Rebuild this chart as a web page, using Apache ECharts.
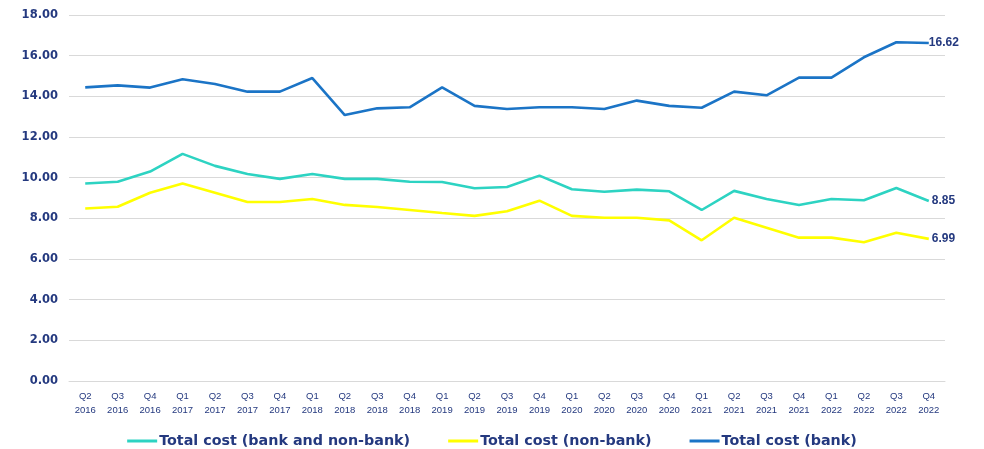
<!DOCTYPE html>
<html>
<head>
<meta charset="utf-8">
<script src="https://cdn.jsdelivr.net/npm/echarts@6/dist/echarts.min.js"></script>
<style>
  html, body { margin: 0; padding: 0; background: #ffffff; }
  #chart { width: 984px; height: 449px; }
</style>
</head>
<body>
<div id="chart"></div>
<script>
// Quarter labels (quarter on top line, year below)
const quarters = [
  'Q2\n2016', 'Q3\n2016', 'Q4\n2016',
  'Q1\n2017', 'Q2\n2017', 'Q3\n2017', 'Q4\n2017',
  'Q1\n2018', 'Q2\n2018', 'Q3\n2018', 'Q4\n2018',
  'Q1\n2019', 'Q2\n2019', 'Q3\n2019', 'Q4\n2019',
  'Q1\n2020', 'Q2\n2020', 'Q3\n2020', 'Q4\n2020',
  'Q1\n2021', 'Q2\n2021', 'Q3\n2021', 'Q4\n2021',
  'Q1\n2022', 'Q2\n2022', 'Q3\n2022', 'Q4\n2022'
];

// Total cost, bank and non-bank combined
const totalAll = [
  9.71, 9.80, 10.30,
  11.17, 10.58, 10.18, 9.94,
  10.18, 9.94, 9.94, 9.80,
  9.79, 9.48, 9.54, 10.10,
  9.43, 9.31, 9.41, 9.33,
  8.41, 9.35, 8.95, 8.66,
  8.95, 8.89, 9.49, 8.85
];

// Total cost, non-bank
const totalNonBank = [
  8.48, 8.57, 9.26,
  9.71, 9.26, 8.80, 8.80,
  8.95, 8.66, 8.56, 8.41,
  8.26, 8.12, 8.35, 8.87,
  8.12, 8.03, 8.03, 7.90,
  6.92, 8.03, 7.54, 7.05,
  7.05, 6.82, 7.29, 6.99
];

// Total cost, bank
const totalBank = [
  14.44, 14.54, 14.43,
  14.84, 14.61, 14.23, 14.23,
  14.90, 13.08, 13.41, 13.46,
  14.44, 13.53, 13.38, 13.46,
  13.46, 13.38, 13.79, 13.53,
  13.44, 14.23, 14.05, 14.92,
  14.92, 15.92, 16.66, 16.62
];

const navy = '#24397f';
const sansFont = '"Liberation Sans", Arial, sans-serif';
const wideFont = '"DejaVu Sans", sans-serif';

// A line with its latest value written at the end
function lineSeries(name, values, color, labelDistance) {
  return {
    name, type: 'line',
    data: values,
    symbol: 'none',
    lineStyle: { color, width: 2.6 },
    itemStyle: { color },
    endLabel: {
      show: true,
      distance: labelDistance,
      formatter: p => Number(p.value).toFixed(2),
      color: navy, fontWeight: 'bold', fontSize: 12, fontFamily: sansFont
    },
    animation: false
  };
}

const chart = echarts.init(document.getElementById('chart'), null, { renderer: 'canvas' });
chart.setOption({
  backgroundColor: '#ffffff',
  grid: { left: 69, right: 39, top: 15, bottom: 68, containLabel: false },
  legend: {
    top: 429,
    left: 'center',
    itemWidth: 30,
    itemHeight: 3,
    itemGap: 38,
    icon: 'rect',
    textStyle: { color: navy, fontWeight: 'bold', fontSize: 14.3, fontFamily: wideFont, padding: [0, 0, 0, -3] },
    data: ['Total cost (bank and non-bank)', 'Total cost (non-bank)', 'Total cost (bank)']
  },
  xAxis: {
    type: 'category',
    data: quarters,
    boundaryGap: true,
    axisLine: { show: true, lineStyle: { color: '#d9d9d9', width: 1 } },
    axisTick: { show: false },
    axisLabel: {
      interval: 0, margin: 8,
      color: navy, fontSize: 9.5, lineHeight: 14, fontFamily: sansFont
    }
  },
  yAxis: {
    type: 'value',
    min: 0, max: 18, interval: 2,
    axisLine: { show: false },
    axisTick: { show: false },
    splitLine: { lineStyle: { color: '#d9d9d9', width: 1 } },
    axisLabel: {
      margin: 11,
      color: navy, fontWeight: 'bold', fontSize: 11.5, fontFamily: wideFont,
      formatter: v => v.toFixed(2)
    }
  },
  series: [
    lineSeries('Total cost (bank and non-bank)', totalAll, '#2dd3c2', 3),
    lineSeries('Total cost (non-bank)', totalNonBank, '#ffff00', 3),
    lineSeries('Total cost (bank)', totalBank, '#1b74c6', 0)
  ]
});
</script>
</body>
</html>
